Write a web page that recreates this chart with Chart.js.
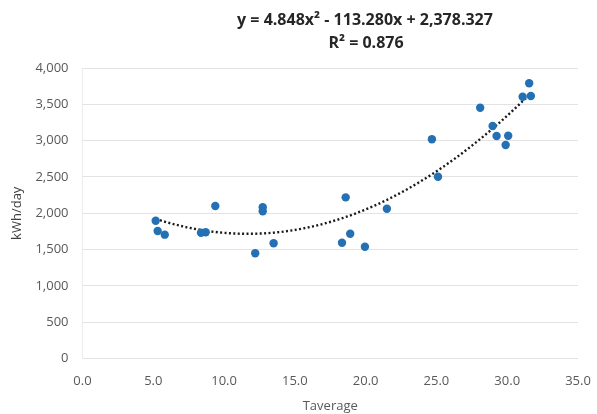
<!DOCTYPE html>
<html>
<head>
<meta charset="utf-8">
<script src="https://cdn.jsdelivr.net/npm/chart.js@4/dist/chart.umd.min.js"></script>
<style>
  html, body { margin: 0; padding: 0; background: #ffffff; }
  #wrap { width: 597px; height: 414px; }
</style>
</head>
<body>
<div id="wrap"><canvas id="c" width="597" height="414"></canvas></div>
<script>
// ---- Data ----
const tAverage = [5.17, 5.31, 5.81, 8.37, 8.70, 9.38, 12.73, 12.73, 12.20, 13.50,
                  18.59, 18.91, 18.33, 19.95, 21.50, 24.68, 25.11,
                  28.09, 28.97, 29.25, 30.07, 29.89, 31.09, 31.67, 31.55];
const kwhPerDay = [1897, 1755, 1705, 1732, 1738, 2100, 2082, 2027, 1449, 1586,
                   2219, 1718, 1594, 1539, 2062, 3018, 2503,
                   3453, 3201, 3063, 3068, 2940, 3605, 3614, 3789];
// Trendline equation printed on the chart: y = a x^2 + b x + c
const trendCoefficients = [4.848, -113.280, 2378.327];
const titleLines = ["y = 4.848x\u00B2 - 113.280x + 2,378.327", "R\u00B2 = 0.876"];
const xTickValues = [0, 5, 10, 15, 20, 25, 30, 35];
const yTickValues = [0, 500, 1000, 1500, 2000, 2500, 3000, 3500, 4000];
const xAxisTitle = "Taverage";
const yAxisTitle = "kWh/day";

// ---- Build datasets ----
const points = tAverage.map((x, i) => ({ x: x, y: kwhPerDay[i] }));
const xMin = Math.min(...tAverage), xMax = Math.max(...tAverage);
const trend = [];
const steps = 60;
for (let i = 0; i <= steps; i++) {
  const x = xMin + (xMax - xMin) * i / steps;
  trend.push({ x: x, y: trendCoefficients[0] * x * x + trendCoefficients[1] * x + trendCoefficients[2] });
}

const tickFont = { family: "'Open Sans', sans-serif", size: 13 };
const tickColor = '#595959';
const gridColor = '#e3e3e3';

const titlePlugin = {
  id: 'equationTitle',
  afterDraw(chart) {
    const ctx = chart.ctx;
    ctx.save();
    ctx.font = "bold 16px 'Open Sans', sans-serif";
    ctx.fillStyle = '#262626';
    ctx.textAlign = 'center';
    ctx.textBaseline = 'middle';
    ctx.fillText(titleLines[0], 365, 20);
    ctx.fillText(titleLines[1], 366, 43);
    ctx.restore();
  }
};

new Chart(document.getElementById('c'), {
  type: 'scatter',
  data: {
    datasets: [
      {
        label: 'Trend',
        data: trend,
        showLine: true,
        borderColor: '#1a1a1a',
        borderWidth: 2.4,
        borderDash: [2, 2.4],
        pointRadius: 0,
        fill: false,
        order: 2
      },
      {
        label: 'kWh/day',
        data: points,
        backgroundColor: '#2470b5',
        borderColor: '#2470b5',
        pointRadius: 4.2,
        pointBorderWidth: 0,
        order: 1
      }
    ]
  },
  options: {
    responsive: false,
    animation: false,
    devicePixelRatio: 1,
    layout: { padding: { top: 68, right: 19, bottom: 0, left: 0 } },
    plugins: {
      legend: { display: false },
      tooltip: { enabled: false },
      title: { display: false }
    },
    scales: {
      x: {
        type: 'linear',
        min: 0, max: 35,
        afterBuildTicks(scale) { scale.ticks = xTickValues.map(v => ({ value: v })); },
        afterFit(scale) { scale.height = 55.5; scale.paddingRight = 0; scale.paddingLeft = 0; },
        ticks: {
          font: tickFont, color: tickColor, padding: 15, maxRotation: 0,
          callback: v => Number(v).toFixed(1)
        },
        grid: { display: false, drawTicks: false },
        border: { display: false },
        title: {
          display: true, text: xAxisTitle, color: tickColor,
          font: { family: "'Open Sans', sans-serif", size: 13 },
          padding: { top: 0, bottom: 0 }
        }
      },
      y: {
        type: 'linear',
        min: 0, max: 4000,
        afterBuildTicks(scale) { scale.ticks = yTickValues.map(v => ({ value: v })); },
        afterFit(scale) { scale.width = 82.5; },
        ticks: {
          font: tickFont, color: tickColor, padding: 14,
          callback: v => Number(v).toLocaleString('en-US')
        },
        grid: { color: gridColor, lineWidth: 1, drawTicks: false },
        border: { display: true, color: '#ececec' },
        title: {
          display: true, text: yAxisTitle, color: '#404040',
          font: { family: "'Open Sans', sans-serif", size: 13 },
          padding: { top: 9, bottom: 0 }
        }
      }
    }
  },
  plugins: [titlePlugin]
});
</script>
</body>
</html>
